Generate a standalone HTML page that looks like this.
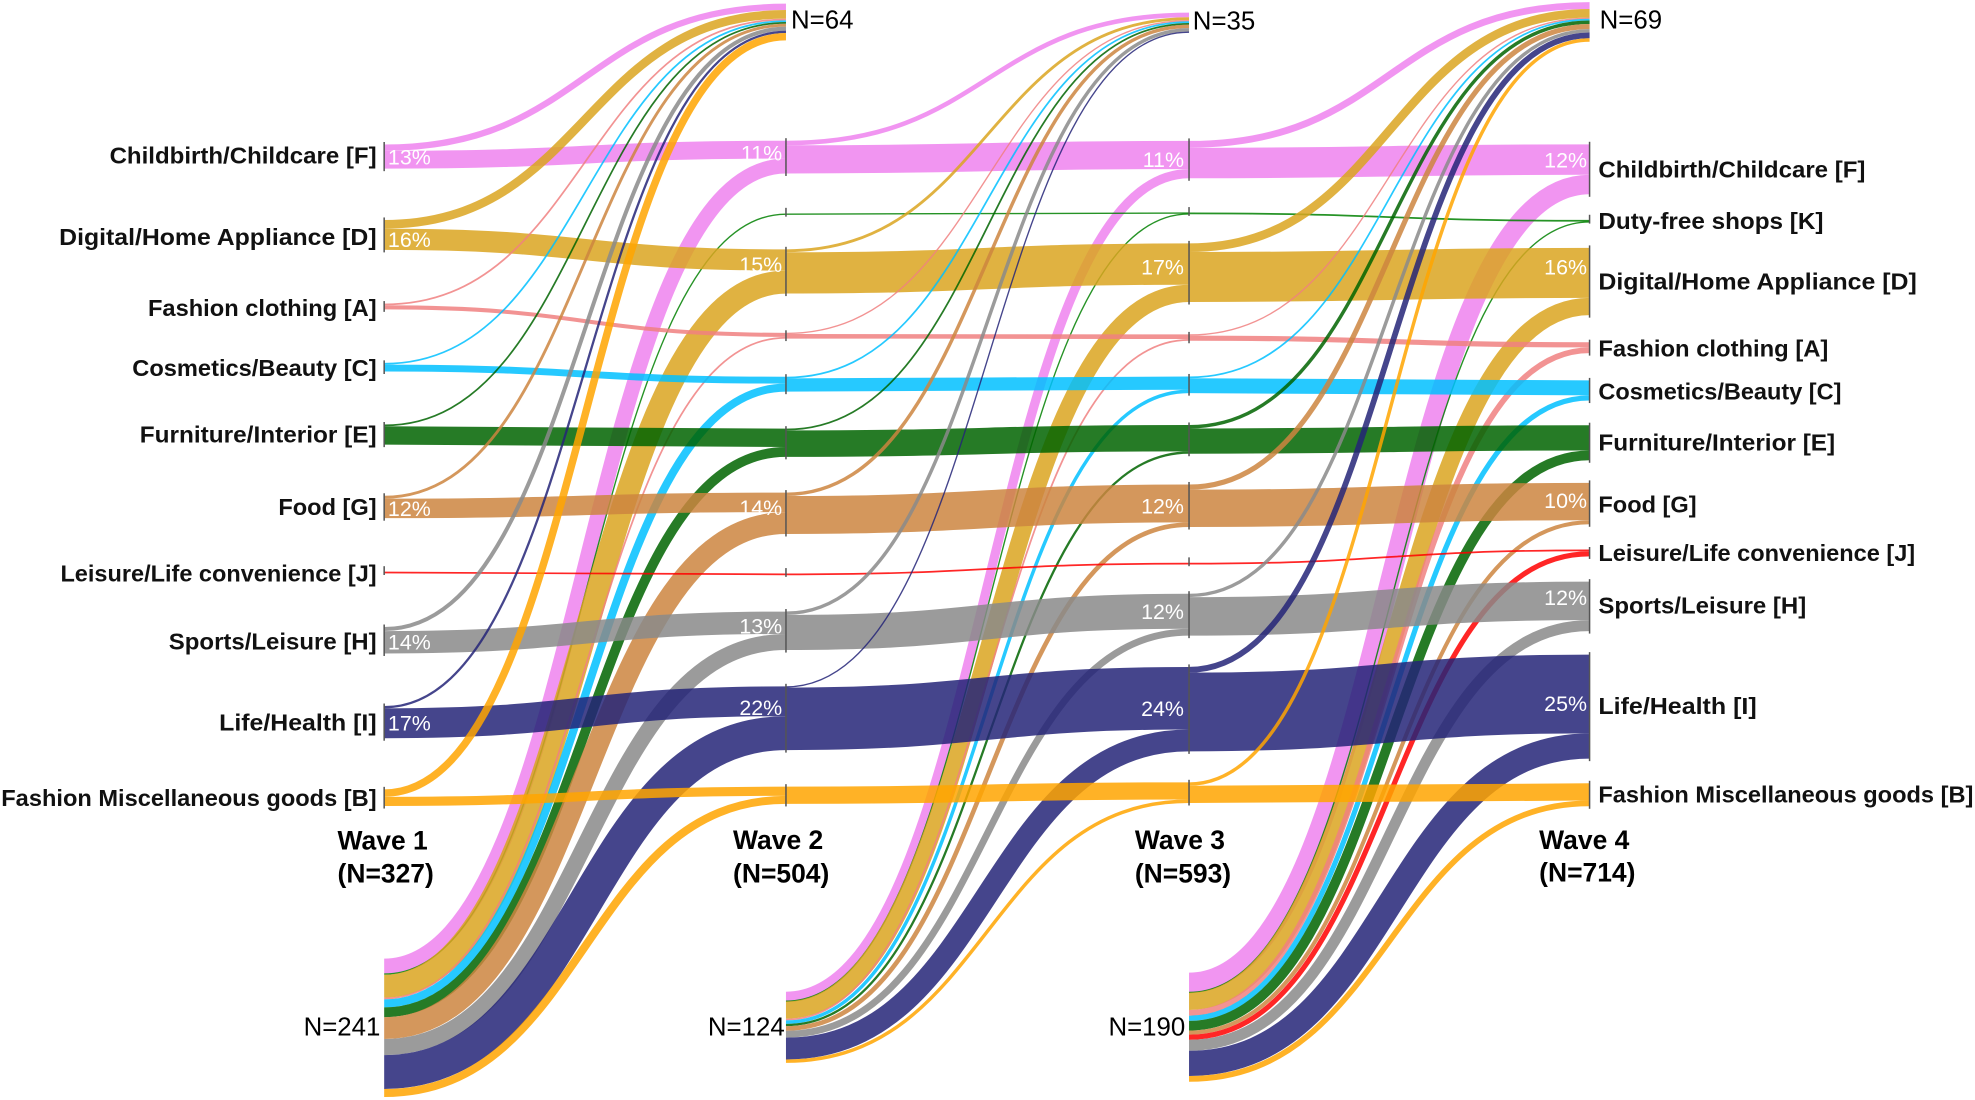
<!DOCTYPE html>
<html><head><meta charset="utf-8"><style>
html,body{margin:0;padding:0;background:#fff;width:1975px;height:1100px;overflow:hidden}
svg{display:block}
.cl{font-family:"Liberation Sans",sans-serif;font-weight:bold;font-size:18px;fill:#111}
.pc{font-family:"Liberation Sans",sans-serif;font-size:17px;fill:#fff}
.n{font-family:"Liberation Sans",sans-serif;font-size:20.5px;fill:#000}
.w{font-family:"Liberation Sans",sans-serif;font-weight:bold;font-size:21px;fill:#000}
</style></head><body>
<svg id="s" width="1975" height="1100" viewBox="0 0 1568 873.3" xmlns="http://www.w3.org/2000/svg">
<g id="flows" fill="none" stroke-opacity="0.85"></g>
<g id="ticks" stroke="#555" stroke-width="1.2"></g>
<g>
<text class="pc" x="308" y="130.5">13%</text>
<text class="pc" x="308" y="196">16%</text>
<text class="pc" x="308" y="409.5">12%</text>
<text class="pc" x="308" y="515.5">14%</text>
<text class="pc" x="308" y="580">17%</text>
<text class="pc" x="621" y="127.5" text-anchor="end">11%</text>
<text class="pc" x="621" y="216" text-anchor="end">15%</text>
<text class="pc" x="621" y="409" text-anchor="end">14%</text>
<text class="pc" x="621" y="503" text-anchor="end">13%</text>
<text class="pc" x="621" y="567.5" text-anchor="end">22%</text>
<text class="pc" x="940" y="132.5" text-anchor="end">11%</text>
<text class="pc" x="940" y="218" text-anchor="end">17%</text>
<text class="pc" x="940" y="407.5" text-anchor="end">12%</text>
<text class="pc" x="940" y="491.5" text-anchor="end">12%</text>
<text class="pc" x="940" y="568.5" text-anchor="end">24%</text>
<text class="pc" x="1260" y="133" text-anchor="end">12%</text>
<text class="pc" x="1260" y="218" text-anchor="end">16%</text>
<text class="pc" x="1260" y="403.5" text-anchor="end">10%</text>
<text class="pc" x="1260" y="480.5" text-anchor="end">12%</text>
<text class="pc" x="1260" y="564.5" text-anchor="end">25%</text>
</g>
<g>
<text class="cl" x="299" y="130" text-anchor="end" textLength="212" lengthAdjust="spacingAndGlyphs">Childbirth/Childcare [F]</text>
<text class="cl" x="299" y="194.5" text-anchor="end" textLength="252" lengthAdjust="spacingAndGlyphs">Digital/Home Appliance [D]</text>
<text class="cl" x="299" y="251" text-anchor="end" textLength="181.5" lengthAdjust="spacingAndGlyphs">Fashion clothing [A]</text>
<text class="cl" x="299" y="298.5" text-anchor="end" textLength="194" lengthAdjust="spacingAndGlyphs">Cosmetics/Beauty [C]</text>
<text class="cl" x="299" y="351.5" text-anchor="end" textLength="188" lengthAdjust="spacingAndGlyphs">Furniture/Interior [E]</text>
<text class="cl" x="299" y="409" text-anchor="end" textLength="78" lengthAdjust="spacingAndGlyphs">Food [G]</text>
<text class="cl" x="299" y="461.5" text-anchor="end" textLength="251" lengthAdjust="spacingAndGlyphs">Leisure/Life convenience [J]</text>
<text class="cl" x="299" y="515.5" text-anchor="end" textLength="165" lengthAdjust="spacingAndGlyphs">Sports/Leisure [H]</text>
<text class="cl" x="299" y="580" text-anchor="end" textLength="125" lengthAdjust="spacingAndGlyphs">Life/Health [I]</text>
<text class="cl" x="299" y="640" text-anchor="end" textLength="298" lengthAdjust="spacingAndGlyphs">Fashion Miscellaneous goods [B]</text>

<text class="cl" x="1269" y="141" textLength="212" lengthAdjust="spacingAndGlyphs">Childbirth/Childcare [F]</text>
<text class="cl" x="1269" y="182" textLength="178.7" lengthAdjust="spacingAndGlyphs">Duty-free shops [K]</text>
<text class="cl" x="1269" y="230" textLength="252.8" lengthAdjust="spacingAndGlyphs">Digital/Home Appliance [D]</text>
<text class="cl" x="1269" y="283" textLength="182.6" lengthAdjust="spacingAndGlyphs">Fashion clothing [A]</text>
<text class="cl" x="1269" y="317" textLength="193" lengthAdjust="spacingAndGlyphs">Cosmetics/Beauty [C]</text>
<text class="cl" x="1269" y="357.5" textLength="188" lengthAdjust="spacingAndGlyphs">Furniture/Interior [E]</text>
<text class="cl" x="1269" y="407" textLength="78" lengthAdjust="spacingAndGlyphs">Food [G]</text>
<text class="cl" x="1269" y="445.5" textLength="251.5" lengthAdjust="spacingAndGlyphs">Leisure/Life convenience [J]</text>
<text class="cl" x="1269" y="487" textLength="165" lengthAdjust="spacingAndGlyphs">Sports/Leisure [H]</text>
<text class="cl" x="1269" y="567" textLength="125.7" lengthAdjust="spacingAndGlyphs">Life/Health [I]</text>
<text class="cl" x="1269" y="637" textLength="297.7" lengthAdjust="spacingAndGlyphs">Fashion Miscellaneous goods [B]</text>
</g>
<g>
<text class="w" x="268" y="674.5">Wave 1</text>
<text class="w" x="268" y="700.8">(N=327)</text>
<text class="w" x="582" y="674">Wave 2</text>
<text class="w" x="582" y="700.5">(N=504)</text>
<text class="w" x="901" y="674">Wave 3</text>
<text class="w" x="901" y="700.5">(N=593)</text>
<text class="w" x="1222" y="674">Wave 4</text>
<text class="w" x="1222" y="700">(N=714)</text>
<text class="n" x="628" y="22.6">N=64</text>
<text class="n" x="947" y="23.5">N=35</text>
<text class="n" x="1270" y="22.6">N=69</text>
<text class="n" x="302" y="822.3" text-anchor="end">N=241</text>
<text class="n" x="623" y="822.3" text-anchor="end">N=124</text>
<text class="n" x="941" y="822.3" text-anchor="end">N=190</text>
</g>
</svg>
<script>
(function(){
var k=0.456, X=[305,624,944,1262];
var cats=['F','K','D','A','C','E','G','J','H','I','B'];
var col={F:'#EE82EE',K:'#008000',D:'#DAA520',A:'#F08080',C:'#00BFFF',E:'#006400',G:'#CD853F',J:'#FF0000',H:'#8a8a8a',I:'#242478',B:'#FFA500'};
var W=[
 {F:42,K:0,D:52,A:10,C:15,E:35,G:39,J:3,H:46,I:56,B:29},
 {F:57,K:2,D:77,A:10,C:26,E:49,G:72,J:3,H:67,I:111,B:30},
 {F:65,K:3,D:102,A:11,C:29,E:50,G:74,J:3,H:73,I:147,B:36},
 {F:87,K:4,D:117,A:19,C:35,E:61,G:72,J:12,H:86,I:181,B:40}];
var drop=[
 {F:11,D:15,A:3,C:3,E:3,G:5,H:7,I:4,B:13},
 {F:8,D:5,A:2,C:3,E:3,G:6,H:6,I:2},
 {F:12,D:15,A:2,C:3,E:6,G:9,H:6,I:10,B:6}];
var nw=[
 {F:26,K:2,D:40,A:3,C:14,E:17,G:38,J:0,H:28,I:59,B:14},
 {F:16,K:1,D:30,A:3,C:6,E:4,G:8,J:0,H:12,I:38,B:6},
 {F:34,K:1,D:30,A:10,C:9,E:17,G:7,J:9,H:19,I:44,B:10}];
var CEN=[
 {F:124.3,K:0,D:186.5,A:243.3,C:291.5,E:345,G:402.5,J:454.5,H:508.3,I:573.3,B:633.3},
 {F:124.7,K:170,D:215.5,A:266.5,C:305,E:351.5,G:407.5,J:456,H:500.8,I:570.2,B:631.4},
 {F:126.7,K:169.4,D:216.5,A:268,C:305.5,E:348.8,G:401.5,J:447.5,H:488,I:563,B:629.3},
 {F:134.4,K:175.5,D:223.5,A:276,C:310,E:351.5,G:399.8,J:439,H:481.4,I:561,B:631}];
var topC=[0,17.5,18,17.4], botC=[816,815.6,815.5];
var NT=W.map(function(w,t){var o={};cats.forEach(function(c){o[c]=CEN[t][c]-(w[c]||0)*k/2;});return o;});
var out=[];
function f(v){return v.toFixed(2);}
function link(x0,y0,x1,y1,v,c){var w=Math.max(v*k,1.1);var xm=(x0+x1)/2;
 out.push('<path d="M'+x0+','+f(y0)+'C'+xm+','+f(y0)+' '+xm+','+f(y1)+' '+x1+','+f(y1)+'" stroke="'+col[c]+'" stroke-width="'+f(w)+'"/>');}
function sum(o){var s=0;for(var key in o)s+=o[key];return s;}
for(var t=0;t<3;t++){
 var ts=topC[t+1]-sum(drop[t])*k/2;
 var bs=botC[t]-sum(nw[t])*k/2;
 cats.forEach(function(c){
  var d=drop[t][c]||0,n=nw[t][c]||0,cont=(W[t][c]||0)-d;
  var sT=NT[t][c], tT=NT[t+1][c];
  if(d>0)link(X[t],sT+d*k/2,X[t+1],ts+d*k/2,d,c);
  ts+=d*k;
  if(cont>0)link(X[t],sT+d*k+cont*k/2,X[t+1],tT+cont*k/2,cont,c);
  if(n>0)link(X[t],bs+n*k/2,X[t+1],tT+cont*k+n*k/2,n,c);
  bs+=n*k;
 });
}
document.getElementById('flows').innerHTML=out.join('');
var tk=[];
for(var t=0;t<4;t++){cats.forEach(function(c){var v=W[t][c]||0;if(v<=0)return;
 var a=NT[t][c]-2,b=NT[t][c]+v*k+2;if(b-a<7){a=(a+b)/2-5;b=a+7;}
 tk.push('<line x1="'+X[t]+'" x2="'+X[t]+'" y1="'+f(a)+'" y2="'+f(b)+'"/>');});}
document.getElementById('ticks').innerHTML=tk.join('');
})();
</script>
</body></html>
